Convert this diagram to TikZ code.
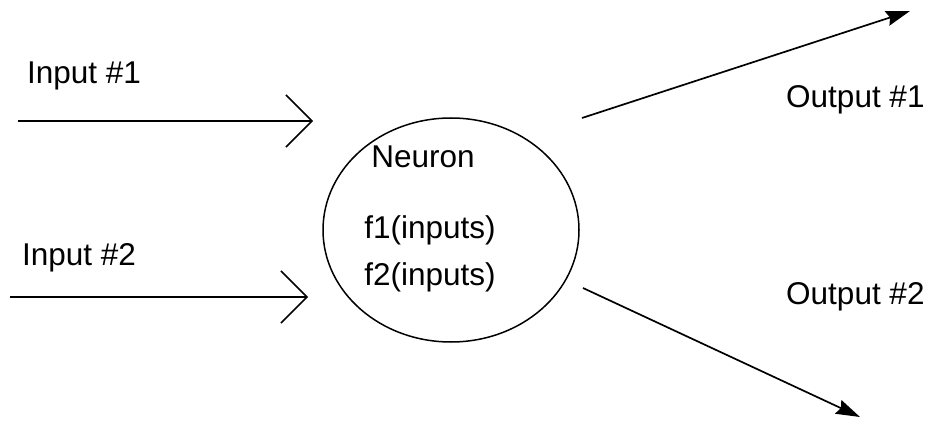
\documentclass[tikz,border=0pt]{standalone}
\usepackage{fontspec}
\setmainfont{Liberation Sans}
\usepackage{tikz}
\usetikzlibrary{positioning,shapes.geometric,arrows.meta}
\tikzset{
  neuron/.style={draw, ellipse, line width=1.5pt, minimum width=256pt, minimum height=224pt, inner sep=0pt},
  lbl/.style={inner sep=0pt, font=\fontsize{31.5}{36}\selectfont},
  inarrow/.style={line width=1.7pt, -{Straight Barb[length=26pt, width=52pt, line width=1.5pt]}},
  outarrow/.style={line width=1.7pt, -{Stealth[length=24pt, width=15pt, inset=3pt]}}
}
\begin{document}
\begin{tikzpicture}[x=1pt, y=-1pt]
  \useasboundingbox (0,0) rectangle (929,422);

  \node[neuron] (neuron) at (451,230) {};
  \node[lbl] (title) at (423,157) {Neuron};
  \node[lbl] (f1) at (430,230) {f1(inputs)};
  \node[lbl] (f2) at (430,277) {f2(inputs)};

  \node[lbl, anchor=west] (in1lbl) at (27,76) {Input \#1};
  \node[lbl, anchor=west] (in2lbl) at (22,258) {Input \#2};
  \node[lbl, anchor=west] (out1lbl) at (786,100) {Output \#1};
  \node[lbl, anchor=west] (out2lbl) at (786,297) {Output \#2};

  \coordinate (in1a) at (18,121);
  \coordinate (in1b) at (313,121);
  \coordinate (in2a) at (10,297);
  \coordinate (in2b) at (308,297);
  \coordinate (out1a) at (582,118);
  \coordinate (out1b) at (910,11);
  \coordinate (out2a) at (583,288);
  \coordinate (out2b) at (860,417);

  \draw[inarrow] (in1a) -- (in1b);
  \draw[inarrow] (in2a) -- (in2b);
  \draw[outarrow] (out1a) -- (out1b);
  \draw[outarrow] (out2a) -- (out2b);
\end{tikzpicture}
\end{document}
